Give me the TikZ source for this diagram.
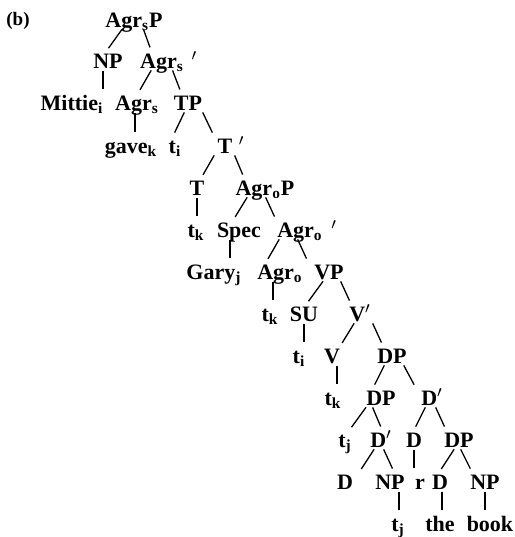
\documentclass[tikz,border=0pt]{standalone}
\usepackage{fontspec}
\setmainfont{Liberation Serif}

% subscript index and a prime set off from its category
\newcommand{\idx}[1]{\textsubscript{#1}}
\newcommand{\gapprime}[1]{\rlap{\hspace{#1}$'$}}

\begin{document}
\begin{tikzpicture}[x=0.5pt, y=-0.5pt, line width=0.65pt]
  \tikzset{
    cat/.style={font=\fontsize{11}{13}\selectfont\bfseries, inner sep=0pt, text height=7.3pt, text depth=0pt},
    branch/.style={shorten <=0.8pt, shorten >=3pt}
  }
  \useasboundingbox (0,0) rectangle (515,537);

  \node[cat, font=\fontsize{9.5}{11}\selectfont\bfseries] (tag) at (18,18) {(b)};

  % rows of the tree, top to bottom
  \node[cat] (agrsp)   at (134,20)  {Agr\idx{s}P};

  \node[cat] (np1)     at (108,61)  {NP};
  \node[cat] (agrsbar) at (162,61)  {Agr\idx{s}\gapprime{0.35em}};

  \node[cat] (mittie)  at (72,103)  {Mittie\idx{i}};
  \node[cat] (agrs)    at (137,103) {Agr\idx{s}};
  \node[cat] (tp)      at (188,103) {TP};

  \node[cat] (gave)    at (131,146) {gave\idx{k}};
  \node[cat] (ti1)     at (175,146) {t\idx{i}};
  \node[cat] (tbar)    at (225,146) {T\gapprime{0.3em}};

  \node[cat] (t)       at (197,188) {T};
  \node[cat] (agrop)   at (265,188) {Agr\idx{o}P};

  \node[cat] (tk1)     at (196,230) {t\idx{k}};
  \node[cat] (spec)    at (239,230) {Spec};
  \node[cat] (agrobar) at (300,230) {Agr\idx{o}\gapprime{0.4em}};

  \node[cat] (gary)    at (214,272) {Gary\idx{j}};
  \node[cat] (agro)    at (280,272) {Agr\idx{o}};
  \node[cat] (vp)      at (329,272) {VP};

  \node[cat] (tk2)     at (270,314) {t\idx{k}};
  \node[cat] (su)      at (304,314) {SU};
  \node[cat] (vbar)    at (360,314) {V$'$};

  \node[cat] (ti2)     at (299,356) {t\idx{i}};
  \node[cat] (v)       at (332,356) {V};
  \node[cat] (dp1)     at (392,356) {DP};

  \node[cat] (tk3)     at (333,398) {t\idx{k}};
  \node[cat] (dp2)     at (381,398) {DP};
  \node[cat] (dbar1)   at (432,398) {D$'$};

  \node[cat] (tj1)     at (345,440) {t\idx{j}};
  \node[cat] (dbar2)   at (381,440) {D$'$};
  \node[cat] (d1)      at (414,440) {D};
  \node[cat] (dp3)     at (459,440) {DP};

  \node[cat] (d2)      at (345,482) {D};
  \node[cat] (np2)     at (390,482) {NP};
  \node[cat] (r)       at (420,482) {r};
  \node[cat] (d3)      at (440,482) {D};
  \node[cat] (np3)     at (485,482) {NP};

  \node[cat] (tj2)     at (398,524) {t\idx{j}};
  \node[cat] (the)     at (440,524) {the};
  \node[cat] (book)    at (490,524) {book};

  % branching edges
  \draw[branch] ([xshift=-5.5pt]agrsp.south) -- ([xshift=-1.5pt]np1.north);
  \draw[branch] ([xshift=4.5pt]agrsp.south) -- ([xshift=-5pt]agrsbar.north);
  \draw[branch] ([xshift=-5pt]agrsbar.south) -- (agrs.north);
  \draw[branch] ([xshift=5pt]agrsbar.south) -- ([xshift=-3pt]tp.north);
  \draw[branch] ([xshift=-1.5pt]tp.south) -- ([xshift=-1.5pt]ti1.north);
  \draw[branch] ([xshift=7pt]tp.south) -- ([xshift=-5pt]tbar.north);
  \draw[branch] ([xshift=-5pt]tbar.south) -- ([xshift=1.5pt]t.north);
  \draw[branch] ([xshift=4.5pt]tbar.south) -- ([xshift=-10pt]agrop.north);
  \draw[branch] ([xshift=-8.5pt]agrop.south) -- ([xshift=-3.5pt]spec.north);
  \draw[branch] (agrop.south) -- ([xshift=-11.5pt]agrobar.north);
  \draw[branch] ([xshift=-10pt]agrobar.south) -- ([xshift=-7.5pt]agro.north);
  \draw[branch] ([xshift=-1.5pt]agrobar.south) -- ([xshift=-10pt]vp.north);
  \draw[branch] ([xshift=-2.5pt]vp.south) -- ([xshift=0.5pt]su.north);
  \draw[branch] ([xshift=5.5pt]vp.south) -- ([xshift=-4pt]vbar.north);
  \draw[branch] ([xshift=-2.5pt]vbar.south) -- ([xshift=3.5pt]v.north);
  \draw[branch] ([xshift=6pt]vbar.south) -- ([xshift=-4pt]dp1.north);
  \draw[branch] ([xshift=-3.5pt]dp1.south) -- ([xshift=-4.5pt]dp2.north);
  \draw[branch] ([xshift=5.5pt]dp1.south) -- ([xshift=-7.5pt]dbar1.north);
  \draw[branch] ([xshift=-7pt]dp2.south) -- ([xshift=1.5pt]tj1.north);
  \draw[branch] ([xshift=-4.5pt]dp2.south) -- ([xshift=1pt]dbar2.north);
  \draw[branch] ([xshift=-3pt]dbar1.south) -- ([xshift=-0.5pt]d1.north);
  \draw[branch] ([xshift=1.5pt]dbar1.south) -- ([xshift=-6pt]dp3.north);
  \draw[branch] ([xshift=-3pt]dbar2.south) -- ([xshift=6.5pt]d2.north);
  \draw[branch] ([xshift=1pt]dbar2.south) -- ([xshift=2.5pt]np2.north);
  \draw[branch] ([xshift=-2pt]dp3.south) -- ([xshift=-1pt]d3.north);
  \draw[branch] ([xshift=0.5pt]dp3.south) -- ([xshift=-6pt]np3.north);

  % single daughters hang straight down
  \draw[branch] ([xshift=-2.5pt]np1.south) -- ([xshift=-2.5pt]np1.south |- mittie.north);
  \draw[branch] ([xshift=-1pt]agrs.south) -- ([xshift=-1pt]agrs.south |- gave.north);
  \draw[branch] (t.south) -- (t.south |- tk1.north);
  \draw[branch] ([xshift=-4.5pt]spec.south) -- ([xshift=-4.5pt]spec.south |- gary.north);
  \draw[branch] ([xshift=-3.5pt]agro.south) -- ([xshift=-3.5pt]agro.south |- tk2.north);
  \draw[branch] (su.south) -- (su.south |- ti2.north);
  \draw[branch] ([xshift=2.5pt]v.south) -- ([xshift=2.5pt]v.south |- tk3.north);
  \draw[branch] (d1.south) -- (d1.south |- r.north);
  \draw[branch] ([xshift=4.5pt]np2.south) -- ([xshift=4.5pt]np2.south |- tj2.north);
  \draw[branch] ([xshift=1pt]d3.south) -- ([xshift=1pt]d3.south |- the.north);
  \draw[branch] (np3.south) -- (np3.south |- book.north);
\end{tikzpicture}
\end{document}
